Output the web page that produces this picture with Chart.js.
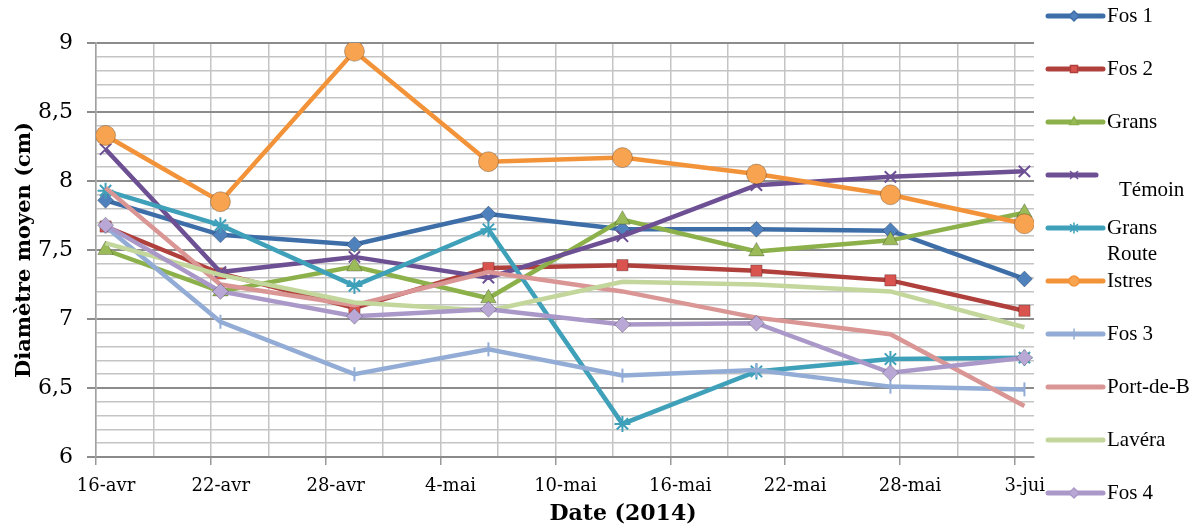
<!DOCTYPE html>
<html>
<head>
<meta charset="utf-8">
<script src="https://cdn.jsdelivr.net/npm/chart.js@4.4.1/dist/chart.umd.min.js"></script>
<style>
  html, body { margin: 0; padding: 0; background: #fff; }
</style>
</head>
<body>
<canvas id="chart" width="1204" height="528"></canvas>
<script>
// relevés 2014
var startDate = '2014-04-16';
var sampleDates = ['2014-04-16', '2014-04-22', '2014-04-29', '2014-05-06', '2014-05-13', '2014-05-20', '2014-05-27', '2014-06-03'];
var tickLabels = ['16-avr', '22-avr', '28-avr', '4-mai', '10-mai', '16-mai', '22-mai', '28-mai', '3-jui'];

var seriesNames = ['Fos 1', 'Fos 2', 'Grans', 'Témoin', 'Grans Route', 'Istres', 'Fos 3', 'Port-de-B', 'Lavéra', 'Fos 4'];

var fos1       = [7.86, 7.61, 7.54, 7.76, 7.65, 7.65, 7.64, 7.29];
var fos2       = [7.67, 7.33, 7.08, 7.37, 7.39, 7.35, 7.28, 7.06];
var grans      = [7.50, 7.20, 7.38, 7.15, 7.72, 7.49, 7.57, 7.77];
var temoin     = [8.23, 7.34, 7.45, 7.30, 7.60, 7.97, 8.03, 8.07];
var gransRoute = [7.93, 7.68, 7.24, 7.65, 6.24, 6.62, 6.71, 6.72];
var istres     = [8.33, 7.85, 8.94, 8.14, 8.17, 8.05, 7.90, 7.69];
var fos3       = [7.67, 6.98, 6.60, 6.78, 6.59, 6.63, 6.51, 6.49];
var portDeB    = [7.95, 7.25, 7.10, 7.34, 7.20, 7.01, 6.89, 6.37];
var lavera     = [7.55, 7.32, 7.12, 7.06, 7.27, 7.25, 7.20, 6.94];
var fos4       = [7.68, 7.20, 7.02, 7.07, 6.96, 6.97, 6.61, 6.72];

var allValues = [fos1, fos2, grans, temoin, gransRoute, istres, fos3, portDeB, lavera, fos4];

var styles = [
  { line: '#3d6ea8', fill: '#4f81bd', point: 'rectRot', r: 8 },
  { line: '#b0403c', fill: '#d9534f', point: 'rect', r: 8 },
  { line: '#8cb04a', fill: '#9bbb59', point: 'triangle', r: 9 },
  { line: '#6d4f93', fill: '#7d5fa0', point: 'crossRot', r: 8 },
  { line: '#3fa0ba', fill: '#4bacc6', point: 'star', r: 8 },
  { line: '#f39339', fill: '#f8a34f', point: 'circle', r: 10 },
  { line: '#92acd6', fill: '#92acd6', point: 'line', r: 7, rot: 90 },
  { line: '#d99694', fill: '#d99694', point: false, r: 0 },
  { line: '#c3d69b', fill: '#c3d69b', point: false, r: 0 },
  { line: '#aa98c9', fill: '#b9a8d6', point: 'rectRot', r: 8 }
];

// Excel place chaque point au milieu du jour
function dayOf(d) {
  return (Date.parse(d) - Date.parse(startDate)) / 86400000 + 0.5;
}

var datasets = seriesNames.map(function(name, i) {
  var s = styles[i];
  var stroked = s.point === 'crossRot' || s.point === 'star' || s.point === 'line';
  return {
    label: name,
    data: allValues[i].map(function(v, k) { return { x: dayOf(sampleDates[k]), y: v }; }),
    borderColor: s.line,
    backgroundColor: s.fill,
    pointBorderColor: stroked ? s.line : 'rgba(0,0,0,0.25)',
    pointBorderWidth: stroked ? 2 : 1,
    borderWidth: 4.5,
    pointStyle: s.point,
    pointRadius: s.r,
    pointRotation: s.rot || 0,
    tension: 0,
    order: seriesNames.length - i
  };
});

var legendPlugin = {
  id: 'sideLegend',
  afterDraw: function(chart) {
    var ctx = chart.ctx;
    ctx.save();
    // titre de l'axe des x (décalé à droite comme dans l'original)
    ctx.font = 'bold 22px "DejaVu Serif"';
    ctx.textAlign = 'center';
    ctx.textBaseline = 'middle';
    ctx.fillStyle = '#000';
    ctx.fillText('Date (2014)', 623, 514);

    ctx.textAlign = 'left';
    ctx.font = '21px "Liberation Serif"';
    seriesNames.forEach(function(name, i) {
      var s = styles[i];
      var y = 16 + i * 53;
      var x1 = 1048, x2 = i === 3 ? 1096 : 1103;
      ctx.strokeStyle = s.line;
      ctx.lineWidth = 5;
      ctx.lineCap = 'round';
      ctx.beginPath();
      ctx.moveTo(x1, y);
      ctx.lineTo(x2, y);
      ctx.stroke();
      if (s.point) {
        ctx.fillStyle = s.fill;
        ctx.strokeStyle = s.line;
        ctx.lineWidth = 1.5;
        Chart.helpers.drawPoint(ctx, { pointStyle: s.point, radius: 5, rotation: s.rot || 0, borderWidth: 1.5 }, 1074, y);
      }
      ctx.fillStyle = '#000';
      if (i === 3) {
        ctx.fillText(name, 1119, y + 15);
      } else if (i === 4) {
        ctx.fillText('Grans', 1107, y);
        ctx.fillText('Route', 1107, y + 26);
      } else {
        ctx.fillText(name, 1107, y);
      }
    });
    ctx.restore();
  }
};

new Chart(document.getElementById('chart').getContext('2d'), {
  type: 'line',
  data: { datasets: datasets },
  plugins: [legendPlugin],
  options: {
    responsive: false,
    animation: false,
    layout: { padding: { top: 43, right: 170, left: 0, bottom: 0 } },
    plugins: { legend: { display: false }, tooltip: { enabled: false } },
    scales: {
      x: {
        type: 'linear',
        min: 0,
        max: 49,
        afterFit: function(scale) { scale.height = 71; },
        ticks: {
          stepSize: 3,
          autoSkip: false,
          includeBounds: false,
          maxRotation: 0,
          padding: 11,
          labelOffset: 10,
          color: '#000',
          font: { family: 'DejaVu Serif', size: 18 },
          callback: function(v) { return v % 6 === 0 ? tickLabels[v / 6] : ''; }
        },
        grid: {
          color: '#c4c4c4',
          lineWidth: 1.5,
          tickLength: 8,
          tickColor: function(c) { return c.tick && c.tick.value % 6 === 0 ? '#999' : 'rgba(0,0,0,0)'; }
        },
        border: { color: '#8a8a8a', width: 2 },
        title: { display: false }
      },
      y: {
        min: 6,
        max: 9,
        afterFit: function(scale) { scale.width = 96; },
        ticks: {
          stepSize: 0.1,
          autoSkip: false,
          padding: 14,
          color: '#000',
          font: { family: 'DejaVu Serif', size: 22 },
          callback: function(v) {
            var t = Math.round(v * 10);
            return t % 5 === 0 ? String(t / 10).replace('.', ',') : '';
          }
        },
        grid: {
          color: function(c) { return c.tick && Math.round(c.tick.value * 10) % 5 === 0 ? '#8c8c8c' : '#c4c4c4'; },
          lineWidth: function(c) { return c.tick && Math.round(c.tick.value * 10) % 5 === 0 ? 2 : 1.5; },
          tickLength: 9,
          tickColor: function(c) { return c.tick && Math.round(c.tick.value * 10) % 5 === 0 ? '#8c8c8c' : 'rgba(0,0,0,0)'; }
        },
        border: { color: '#a0a0a0', width: 1.5 },
        title: {
          display: true,
          text: 'Diamètre moyen (cm)',
          color: '#000',
          font: { family: 'DejaVu Serif', size: 21, weight: 'bold' },
          padding: { top: 12, bottom: 0 }
        }
      }
    }
  }
});
</script>
</body>
</html>
